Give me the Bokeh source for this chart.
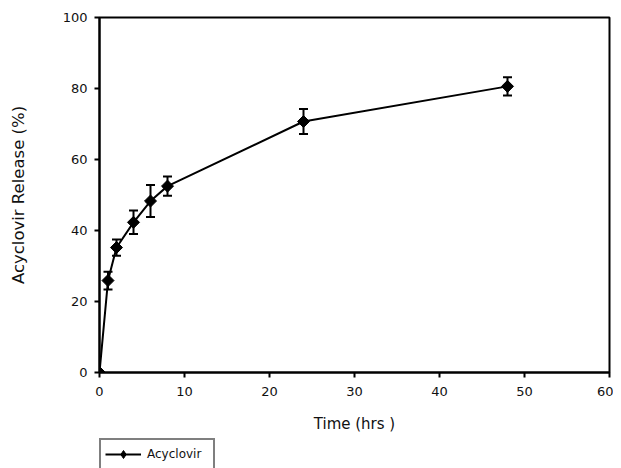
from bokeh.plotting import figure
from bokeh.layouts import column
from bokeh.models import (ColumnDataSource, Whisker, TeeHead, Legend, LegendItem,
                          FixedTicker, Range1d)
from bokeh.embed import file_html
from bokeh.resources import INLINE
import numpy as np

# Data
time_hrs = [0, 1, 2, 4, 6, 8, 24, 48]
release_pct = [0, 25.9, 35.2, 42.3, 48.3, 52.5, 70.7, 80.6]
release_sd = [0, 2.5, 2.3, 3.3, 4.5, 2.7, 3.5, 2.6]
x_ticks = [0, 10, 20, 30, 40, 50, 60]
y_ticks = [0, 20, 40, 60, 80, 100]
series_name = "Acyclovir"

src = ColumnDataSource(dict(
    x=time_hrs,
    y=release_pct,
    lo=[v - s for v, s in zip(release_pct, release_sd)],
    hi=[v + s for v, s in zip(release_pct, release_sd)],
))

p = figure(width=613, height=437, x_range=Range1d(0, 60), y_range=Range1d(0, 100),
           output_backend="svg", toolbar_location=None,
           min_border_left=99, min_border_top=17, min_border_right=4, min_border_bottom=65)

p.grid.visible = False
p.outline_line_color = "black"
p.outline_line_width = 2
p.background_fill_color = "white"
p.border_fill_color = "white"

for ax in (p.xaxis[0], p.yaxis[0]):
    ax.axis_line_color = "black"
    ax.axis_line_width = 2
    ax.major_tick_line_color = "black"
    ax.major_tick_line_width = 2
    ax.major_tick_in = 0
    ax.major_tick_out = 5
    ax.minor_tick_line_color = None
    ax.major_label_text_font = "DejaVu Sans"
    ax.major_label_text_font_size = "13px"
    ax.major_label_text_color = "#111111"
    ax.axis_label_text_font = "DejaVu Sans"
    ax.axis_label_text_font_style = "normal"
    ax.axis_label_text_color = "#111111"

p.xaxis.ticker = FixedTicker(ticks=x_ticks)
p.yaxis.ticker = FixedTicker(ticks=y_ticks)
p.xaxis.axis_label = "Time (hrs )"
p.yaxis.axis_label = "Acyclovir Release (%)"
p.xaxis.axis_label_text_font_size = "15px"
p.yaxis.axis_label_text_font_size = "16.5px"
p.xaxis.major_label_standoff = 9
p.yaxis.major_label_standoff = 7
p.xaxis.axis_label_standoff = 16
p.yaxis.axis_label_standoff = 32

wh = Whisker(base="x", lower="lo", upper="hi", source=src,
             line_color="black", line_width=2,
             lower_head=TeeHead(size=9, line_color="black", line_width=2),
             upper_head=TeeHead(size=9, line_color="black", line_width=2))
p.add_layout(wh)

ln = p.line("x", "y", source=src, line_color="black", line_width=2)
sc = p.scatter("x", "y", source=src, marker="square", angle=np.pi / 4, size=8.5,
               fill_color="black", line_color="black")

# Legend strip below the chart (a separate, axis-less figure so it is not clipped).
# Its frame starts at x=98 so the legend's top-left corner sits under the y axis.
p2 = figure(width=613, height=31, x_range=Range1d(0, 1), y_range=Range1d(0, 1),
            output_backend="svg", toolbar_location=None,
            x_axis_location=None, y_axis_location=None,
            min_border_left=98, min_border_right=0, min_border_top=1, min_border_bottom=0)
p2.grid.visible = False
p2.outline_line_color = None
# legend proxies: same styling as the series, kept off the visible range
ln2 = p2.line(x=[5, 6], y=[5, 6], line_color="black", line_width=2)
sc2 = p2.scatter(x=[5], y=[5], marker="diamond", size=12,
                 fill_color="black", line_color="black")

legend = Legend(items=[LegendItem(label=series_name, renderers=[ln2, sc2])],
                location="top_left", orientation="vertical",
                border_line_color="black", border_line_width=2,
                padding=4, margin=0, glyph_width=36, glyph_height=20,
                label_standoff=6, label_width=62, spacing=0,
                label_text_font="DejaVu Sans", label_text_font_size="12px",
                label_text_color="#111111", background_fill_alpha=1)
p2.add_layout(legend, "center")

layout = column(p, p2, spacing=0)
open("out.html", "w").write(file_html(layout, INLINE))
